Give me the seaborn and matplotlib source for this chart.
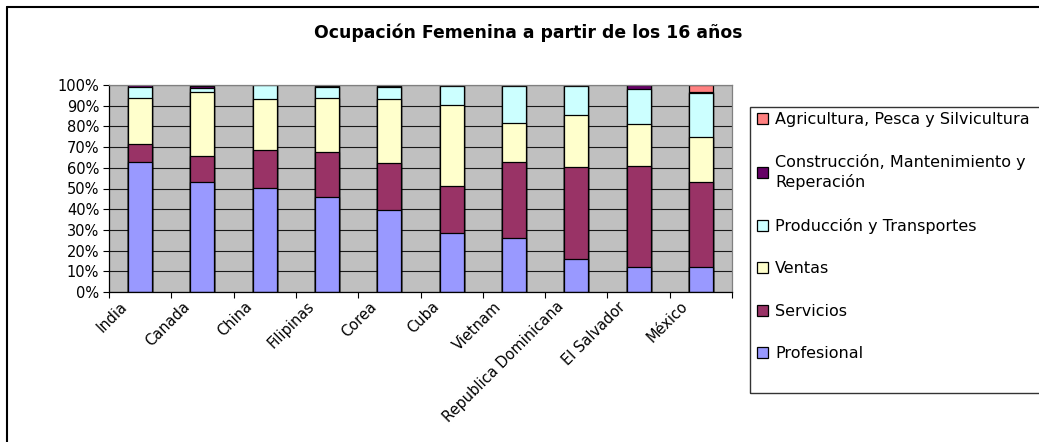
import numpy as np
import pandas as pd
import matplotlib
matplotlib.use("Agg")
import matplotlib.pyplot as plt
import seaborn as sns
from matplotlib.patches import Rectangle, Patch
from matplotlib.lines import Line2D
from matplotlib.ticker import FuncFormatter, MultipleLocator, FixedLocator
from matplotlib.transforms import ScaledTranslation

# ---- data (percent of employed women 16+) ----
paises = ["India", "Canada", "China", "Filipinas", "Corea", "Cuba", "Vietnam",
          "Republica Dominicana", "El Salvador", "México"]
profesional = [62.9, 53.2, 50.3, 46.1, 39.8, 28.5, 26.0, 16.1, 11.9, 11.9]
servicios = [8.4, 12.6, 18.2, 21.6, 22.3, 22.5, 36.9, 44.1, 49.1, 41.3]
ventas = [22.2, 30.7, 24.6, 25.8, 31.0, 39.2, 18.9, 25.3, 20.3, 21.8]
produccion = [5.7, 2.2, 6.7, 5.5, 5.9, 9.2, 17.6, 13.9, 16.8, 21.1]
construccion = [0.6, 0.8, 0.1, 0.7, 0.7, 0.4, 0.4, 0.4, 1.7, 0.7]
agricultura = [0.2, 0.5, 0.1, 0.3, 0.3, 0.2, 0.2, 0.2, 0.2, 3.2]

series_names = ["Profesional", "Servicios", "Ventas", "Producción y Transportes",
                "Construcción, Mantenimiento y\nReperación",
                "Agricultura, Pesca y Silvicultura"]
series_values = [profesional, servicios, ventas, produccion, construccion, agricultura]
series_colors = ["#9999FF", "#993366", "#FFFFCC", "#CCFFFF", "#660066", "#FF8080"]

titulo = "Ocupación Femenina a partir de los 16 años"

# ---- style ----
sns.set_theme(style="white")
plt.rcParams["font.family"] = ["DejaVu Sans"]
plt.rcParams["text.color"] = "black"
plt.rcParams["xtick.color"] = "black"
plt.rcParams["ytick.color"] = "black"
plt.rcParams["axes.labelcolor"] = "black"

W, H = 1039, 442
fig = plt.figure(figsize=(W / 100, H / 100), dpi=100)
fig.patch.set_facecolor("white")

def fx(px):
    return px / W

def fy(py):
    return 1 - py / H

ax = fig.add_axes([fx(109), fy(292), (732 - 109) / W, (292 - 85) / H])
ax.set_facecolor("#C0C0C0")
ax.set_axisbelow(True)

# cumulative tops, drawn from tallest to shortest so each segment shows
tops = np.cumsum(np.array(series_values, dtype=float), axis=0)
for name, top, color in reversed(list(zip(series_names, tops, series_colors))):
    df = pd.DataFrame({"pais": paises, "valor": top})
    sns.barplot(data=df, x="pais", y="valor", order=paises, color=color,
                saturation=1, width=0.385, edgecolor="black", linewidth=0.9,
                ax=ax, errorbar=None)

ax.set_xlim(-0.5, len(paises) - 0.5)
ax.set_ylim(0, 100)
ax.yaxis.set_major_locator(MultipleLocator(10))
ax.yaxis.set_major_formatter(FuncFormatter(lambda v, p: f"{int(round(v))}%"))
ax.grid(axis="y", color="#1a1a1a", linewidth=0.8)
ax.grid(axis="x", visible=False)
ax.set_xlabel("")
ax.set_ylabel("")

for s in ["left", "bottom"]:
    ax.spines[s].set_color("black")
    ax.spines[s].set_linewidth(0.9)
for s in ["top", "right"]:
    ax.spines[s].set_color("#808080")
    ax.spines[s].set_linewidth(0.9)

ax.tick_params(axis="y", which="major", direction="out", length=4, width=0.8,
               color="black", labelsize=10.5, pad=3, left=True, labelcolor="black")
ax.xaxis.set_minor_locator(FixedLocator(np.arange(-0.5, len(paises), 1.0)))
ax.tick_params(axis="x", which="minor", direction="out", length=4, width=0.8,
               color="black", bottom=True)
ax.tick_params(axis="x", which="major", length=0, labelsize=10.5, pad=0,
               labelcolor="black")

offset = ScaledTranslation(-10 / 100, -7 / 100, fig.dpi_scale_trans)
for lab in ax.get_xticklabels():
    lab.set_rotation(45)
    lab.set_ha("right")
    lab.set_va("top")
    lab.set_transform(lab.get_transform() + offset)

fig.text(fx(528), fy(33), titulo, ha="center", va="center", color="black",
         fontsize=12.4, fontweight="bold")

# legend
handles = [Patch(facecolor=c, edgecolor="black", linewidth=0.9)
           for c in series_colors]
order = list(range(len(series_names)))[::-1]
leg = fig.legend([handles[i] for i in order], [series_names[i] for i in order],
                 loc="upper left", bbox_to_anchor=(fx(757), fy(112)),
                 frameon=False, fontsize=11.5, handlelength=0.7, handleheight=0.7,
                 handletextpad=0.45, labelspacing=1.72, borderpad=0, borderaxespad=0)
for t in leg.get_texts():
    t.set_color("black")
    t.set_linespacing(1.3)

fig.add_artist(Rectangle((fx(750), fy(393)), fx(1070) - fx(750), fy(107) - fy(393),
                         transform=fig.transFigure, fill=False,
                         edgecolor="#333333", linewidth=1.0))

# outer chart border (cropped at right and bottom)
fig.add_artist(Line2D([fx(6.5), fx(6.5)], [fy(6.5), fy(450)], transform=fig.transFigure,
                      color="black", linewidth=1.5))
fig.add_artist(Line2D([fx(6.5), fx(1070)], [fy(6.5), fy(6.5)], transform=fig.transFigure,
                      color="black", linewidth=1.5))

fig.savefig("out.png", dpi=100)
